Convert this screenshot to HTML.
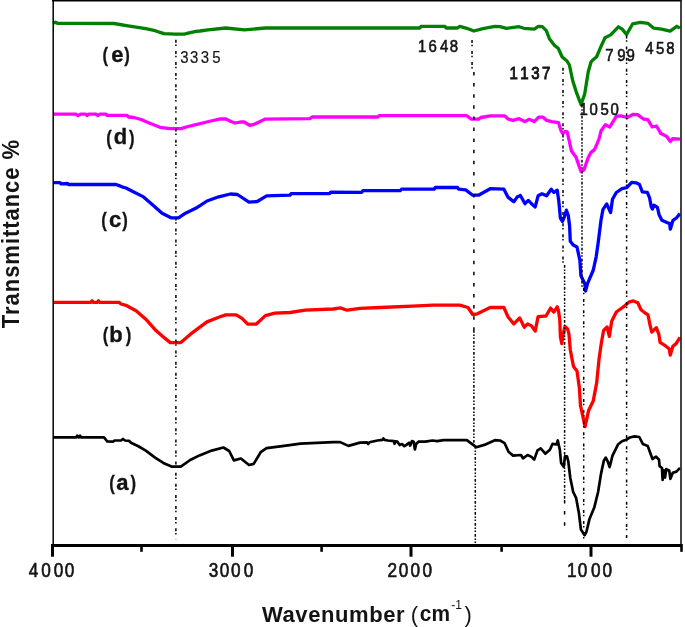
<!DOCTYPE html>
<html><head><meta charset="utf-8"><style>
html,body{margin:0;padding:0;background:#fff;}
svg{display:block;}
text{font-family:"Liberation Sans",Arial,sans-serif;fill:#141414;}
.lb{stroke:#141414;stroke-width:0.35;}
.an{stroke:#141414;stroke-width:0.6;}
.bx{stroke-width:0.95;}
.lt{stroke-width:0.2;}
.tk{stroke:#141414;stroke-width:0.65;}
.c{fill:none;stroke-width:3.3;stroke-linejoin:round;stroke-linecap:butt;}
.dd{stroke:#000;stroke-width:1.5;stroke-dasharray:3 1.8 1.5 4.8;}
.dsh{stroke:#000;stroke-width:1.5;stroke-dasharray:3.5 7.6;}
.ddd{stroke:#000;stroke-width:1.5;stroke-dasharray:2.7 1.9 1.5 1.5 1.5 1.9;}
</style></head><body>
<svg width="685" height="627" viewBox="0 0 685 627">
<rect width="685" height="627" fill="#fff"/>
<polyline class="c" stroke="#008000" points="53,23.3 55.5,22.2 57.5,23.3 80,23.3 114,23.5 128,25.9 145.8,28.7 155.1,30.7 164,33.6 175,34.2 184.4,34.2 187,33.3 196,31.4 200,31 208,29.9 225.7,28 244.4,29.9 265.4,28 350,28 420,28 421,26.4 445,26.4 446,28 457.5,28 459.8,26.4 466.8,28.3 473.8,31 483,28.7 494.9,26.4 500,26.7 506.4,28.3 519.1,26.7 523.9,28.3 534.3,29.1 538.3,26.4 542.3,26.7 546.3,30.7 549.4,38.7 554.2,45.1 558.2,48.3 562.2,57 567,61 569.4,65 572.6,80.2 576.6,92.9 581,104.5 584.7,94 588.2,72 591,62 592.5,60.2 596.5,57 600.2,48.3 605,37.8 610.7,34.9 618.4,26.8 622.2,29.1 626.6,34.5 632.7,23.8 640.4,22.4 648.1,23.4 653.8,28.2 661.5,29.1 670.1,31.1 676.8,26.3 680,28.2"/>
<polyline class="c" stroke="#ff00ff" points="53,114.2 76,114.2 78,115.6 80.5,114.2 85.7,114.2 87.1,115.6 88.6,114.2 96.2,114.2 98,115.6 99.7,114.2 106,114.2 107,115.3 127,115.3 128.5,117 134,117.5 141,119.5 150.4,123.5 160,127.3 170,128.6 181,128.6 188,126.5 195,124.9 208.8,121.5 220.4,118.8 226,119 231,121.5 235,123 241.5,121.8 244,122 249.7,125.3 254,124.3 260.2,121.4 264.8,119.2 309.8,118.7 312.1,117 378,117 379.2,115.7 466.8,115.7 471.5,119.2 478.5,119.2 480.8,117.5 490.2,115.9 504.2,115.9 505.1,116.1 508,119 513.1,120.4 519,118.7 524.8,121.6 529.2,119.3 534.3,121.6 538.7,117.2 543.1,117.2 546.7,120.4 551.8,121.6 558.4,122.6 561.3,131.4 562.8,133.6 565,131.4 567.2,131.8 571.5,151.1 575.9,156.9 581,171.5 583.9,170 587.9,158.4 590.8,152.6 594.5,149.6 598.9,139.4 601.1,130.7 605.4,124.8 609.8,127 616.4,116.1 620.8,115.8 627.3,117.5 633.2,114.3 637.6,114.6 643.4,119 647.8,119.7 652.2,127 656.5,126 660.9,133.6 666.8,136.5 670.4,141.6 672.6,138.7 680,139.1"/>
<polyline class="c" stroke="#0000ff" points="53,182.7 60,182.7 61,183.8 67.5,183.5 68.5,184.5 116,184.5 119,185.6 122,186.8 126,188 131.8,191 143.5,196.9 152.8,205 162.1,213.2 171.5,217.9 178.5,217.9 185.5,213.2 197.2,207.4 200,205.7 207,201 218.7,196.8 230.4,194 237.4,194.5 249,202.2 257.2,201.5 266.6,195.9 290,195.2 291.1,193.6 329.7,193.6 330.8,192.1 361.7,192.4 362.9,190.6 400.2,190.6 401.4,189.2 434.1,189.2 435.3,187.5 457.5,187.5 458.6,189.2 465.7,189.9 472.7,195.2 478.5,195.2 490.2,188.7 503.9,189.2 507.9,197.1 510.5,199.1 513.8,201.7 517.1,197.1 520.4,195.5 525,203.7 528.3,200.4 531.5,203.7 535.2,206.9 538.1,195.8 542,193.8 546.6,195.8 551.2,189.2 553.9,192.5 557.2,190.2 558.8,201.1 560.4,218.1 562.4,221.4 564.4,216.8 566.4,210.2 568.3,215.5 569.6,226 570.3,241.3 573.2,245.1 577,247 579.9,260.5 580.9,275.8 584.7,283.4 585.6,291.1 587.6,283.4 593.3,270 596.2,256.6 598.1,243.2 601,220.2 602.9,209.7 606.7,203.9 610.6,212.6 612.5,199.2 616.3,192.5 622,188.6 626.8,187.7 631.7,182.3 636.2,182.8 639.5,184.5 642.3,191.8 647.3,192.3 649.6,197.9 651.3,206.9 652.4,209.1 654,205.2 657.4,207.4 659.1,214.7 661.9,220.3 666.9,222.5 669.7,223.6 670.3,229.2 673,220.3 676.4,218 680,213.6"/>
<polyline class="c" stroke="#ff0000" points="53,302.3 91,302.3 92.1,300.8 93.3,302.3 97.4,302.3 98.5,300.8 99.7,302.3 119,302.3 121,304 126,305.3 130,307.5 136.4,311 145.8,319.2 155.1,329.7 164.5,337.9 170.3,342.6 180.8,342.6 190.2,334.4 199.5,327.4 207,321.9 218.7,317.2 225.7,314.9 236.2,314.9 242,318.4 247.9,324.2 256.1,324.2 265.4,315.6 274.8,313.2 290,312.5 305.1,310.2 333.2,309 340.2,307.9 347.2,310.2 360,308.3 380.4,307.5 417.8,305.9 432.9,305.2 459.8,305.2 468,307.5 472.7,314.5 477.3,313.8 490.2,307.5 503.9,307.5 507.9,316.7 513.8,323.9 519.7,318 524.3,327.2 527.6,323.9 531.5,325.9 535.2,331.1 538.1,316.7 546,316 550.6,308.1 553.9,312.1 557.2,306.8 558.5,310.8 559.8,320 560.4,337 561.8,343.6 563.1,334.4 565,326.5 567.7,329.2 569,334.4 570.3,350 573.5,366.4 577,371 579.3,387.2 580.5,405.7 582.8,416.2 585.1,426.6 588.6,410.4 593.2,401.1 596.7,382.6 599,359.4 601.3,343.2 603.6,330.5 607.1,327 609.4,336.3 611.7,321.2 616.3,312 624.4,306.2 628.8,302.1 633.3,300.9 637.8,302.8 641,309.8 644.2,312.3 648,314.9 649.9,324.5 651.8,332.1 656.3,327.7 658.8,334.1 660.1,342.4 665.9,346.2 669.1,348.7 670.3,355.1 672.9,346.2 676.1,343.6 680,337.3"/>
<polyline class="c" stroke="#000000" style="stroke-width:2.7" points="53,437.3 76.4,437.3 77.2,435.6 78,437.3 79.3,437.3 80.1,435.6 81,437.3 104,437.3 107.3,441.5 113,441.7 114.5,440.5 121,440.5 123,439 125,440.5 129,440.8 131,442.8 138.8,446.5 145.8,450.7 155.1,457.7 164.5,463.6 171.5,466.6 180.8,466.6 190.2,460 199.5,455.4 211.7,450.6 223.4,447.5 229.2,451 233.9,460.4 240.9,458.5 249,465 253.7,463.9 260.7,452.2 266.6,448.2 284.1,445.9 300.5,443.6 333.2,442.1 340.2,442.1 348.4,445.9 360,442.6 367,442.3 368.2,444 369.5,442.3 371.7,441.7 377.5,440.5 382.6,439.8 383.4,438.5 384.4,439.8 388,440.5 393.9,441.1 394.5,443.8 395.3,441.3 397.4,441.7 399.7,445 402,444 404.4,446.2 406.7,444.6 409,442.8 410.2,445.6 412,441.1 413.7,441.7 414.9,449.5 416.1,444 418.4,441.7 425.4,441.7 432.4,440.5 437.1,441.1 443.5,440.2 466.8,440.2 471.5,443.7 476.2,447.2 484.3,444.9 494.9,440.2 500,440.5 504.6,443.1 508.5,451.7 513.1,455.6 521,455 523,458.3 527.6,455 531.5,456.9 534.2,459.6 537.5,450.4 540.7,448.4 545.3,453.7 549.9,449.7 552.6,443.8 556.5,444.5 557.8,440.5 559.8,449.7 561.1,462.9 563.7,466.8 565,456.3 567,456.3 568.3,461.5 570.3,478 573.2,492 576.1,497.8 578.9,513.1 580.9,529.4 584.7,535.2 586.6,531.3 589.5,518.9 594.3,507.4 598.1,492 601,473.9 603.9,460.4 605.8,457.6 607.7,461.4 609.6,467.1 612.5,455.6 618.2,444.2 622,441.3 626.8,439.4 629.8,437.5 634.6,436.4 639.3,437 642.9,444.1 647.7,445.9 650.1,452.5 652.5,459 656.1,456.7 659,459.6 659.6,466.2 662,468 662.6,480 663.8,470.4 665,477.6 666.2,469.2 669.2,470.4 670.4,478.8 672.8,472.8 676.4,471.6 680,468"/>
<line x1="175.9" y1="39.8" x2="175.9" y2="539.5" class="dd"/>
<line x1="472.05" y1="39.9" x2="472.05" y2="69" class="dd"/>
<line x1="473.9" y1="72" x2="473.9" y2="330" class="dsh"/>
<line x1="473.9" y1="330" x2="473.9" y2="446" class="ddd"/>
<line x1="475.3" y1="446" x2="475.3" y2="543" class="ddd"/>
<line x1="563.0" y1="67.8" x2="563.0" y2="265" class="dd"/>
<line x1="564.6" y1="265" x2="564.6" y2="500" class="ddd"/>
<line x1="564.6" y1="500" x2="564.6" y2="530" class="dsh"/>
<line x1="582.0" y1="104.7" x2="582.0" y2="288" class="ddd"/>
<line x1="583.7" y1="288" x2="583.7" y2="539.5" class="dd"/>
<line x1="626.6" y1="35.5" x2="626.6" y2="539.5" class="dd"/>
<line x1="52" y1="0.8" x2="681.8" y2="0.8" stroke="#000" stroke-width="1.6"/>
<line x1="681" y1="0" x2="681" y2="545" stroke="#222" stroke-width="1.7"/>
<line x1="53.2" y1="0" x2="53.2" y2="546" stroke="#000" stroke-width="1.5"/>
<line x1="51" y1="545.4" x2="681" y2="545.4" stroke="#000" stroke-width="3"/>
<line x1="52.5" y1="544" x2="52.5" y2="556.7" stroke="#000" stroke-width="3"/><line x1="232.5" y1="544" x2="232.5" y2="556.7" stroke="#000" stroke-width="3"/><line x1="411.0" y1="544" x2="411.0" y2="556.7" stroke="#000" stroke-width="3"/><line x1="591.0" y1="544" x2="591.0" y2="556.7" stroke="#000" stroke-width="3"/><line x1="141.5" y1="544" x2="141.5" y2="551.8" stroke="#000" stroke-width="2.6"/><line x1="321.6" y1="544" x2="321.6" y2="551.8" stroke="#000" stroke-width="2.6"/><line x1="501.6" y1="544" x2="501.6" y2="551.8" stroke="#000" stroke-width="2.6"/><line x1="681.5" y1="544" x2="681.5" y2="551.8" stroke="#000" stroke-width="2.6"/>
<text class="tk" x="33.51 47.93 62.52 75.43" y="577.2" font-size="20" transform="scale(0.86,1)">4000</text>
<text class="tk" x="242.87 255.66 268.51 283.51" y="577.2" font-size="20" transform="scale(0.86,1)">3000</text>
<text class="tk" x="450.72 463.80 477.35 491.42" y="577.2" font-size="20" transform="scale(0.86,1)">2000</text>
<text class="tk" x="659.34 671.94 687.11 700.72" y="577.2" font-size="20" transform="scale(0.86,1)">1000</text>
<text class="an lt" x="204.81 215.83 228.11 241.08" y="63.1" font-size="17" transform="scale(0.88,1)">3335</text>
<text class="an" x="475.10 486.92 500.10 511.01" y="52.1" font-size="17" transform="scale(0.88,1)">1648</text>
<text class="an bx" x="578.85 591.12 603.62 616.00" y="79.1" font-size="17" transform="scale(0.88,1)">1137</text>
<text class="an" x="658.56 669.87 682.51 693.74" y="115.0" font-size="17" transform="scale(0.88,1)">1050</text>
<text class="an" x="687.71 701.30 711.92" y="61.3" font-size="17" transform="scale(0.88,1)">799</text>
<text class="an" x="733.22 745.46 757.03" y="53.7" font-size="17" transform="scale(0.88,1)">458</text>
<text class="lb" x="128.22" y="62.1" font-size="20.8" transform="scale(0.8,1)" font-weight="bold">(</text>
<text class="lb" x="111.23" y="61.6" font-size="22" font-weight="bold">e</text>
<text class="lb" x="155.29" y="62.1" font-size="20.8" transform="scale(0.8,1)" font-weight="bold">)</text>
<text class="lb" x="132.72" y="144.6" font-size="20.8" transform="scale(0.8,1)" font-weight="bold">(</text>
<text class="lb" x="113.85" y="144.1" font-size="22" font-weight="bold">d</text>
<text class="lb" x="161.11" y="144.6" font-size="20.8" transform="scale(0.8,1)" font-weight="bold">)</text>
<text class="lb" x="126.65" y="227.1" font-size="20.8" transform="scale(0.8,1)" font-weight="bold">(</text>
<text class="lb" x="109.07" y="226.6" font-size="22" font-weight="bold">c</text>
<text class="lb" x="152.98" y="227.1" font-size="20.8" transform="scale(0.8,1)" font-weight="bold">)</text>
<text class="lb" x="128.34" y="342.2" font-size="20.8" transform="scale(0.8,1)" font-weight="bold">(</text>
<text class="lb" x="109.21" y="341.7" font-size="22" font-weight="bold">b</text>
<text class="lb" x="157.23" y="342.2" font-size="20.8" transform="scale(0.8,1)" font-weight="bold">)</text>
<text class="lb" x="136.47" y="490.3" font-size="20.8" transform="scale(0.8,1)" font-weight="bold">(</text>
<text class="lb" x="116.24" y="489.8" font-size="22" font-weight="bold">a</text>
<text class="lb" x="163.04" y="490.3" font-size="20.8" transform="scale(0.8,1)" font-weight="bold">)</text>
<text class="ax" x="261.98" y="621.5" font-size="22" font-weight="bold" textLength="142.55" lengthAdjust="spacing">Wavenumber</text>
<text class="ax" x="410.77" y="621.5" font-size="22">(</text>
<text class="ax" x="441.98" y="621.5" font-size="22" font-weight="bold" transform="scale(0.95,1)">cm</text>
<text class="ax" x="451.30" y="608.7" font-size="12">-</text>
<text class="ax" x="455.25" y="608.9" font-size="12">1</text>
<text class="ax" x="464.50" y="621.5" font-size="22">)</text>
<text class="ax" transform="translate(19.2,328.15) rotate(-90) scale(0.92,1)" font-size="24" font-weight="bold" textLength="204.71" lengthAdjust="spacing">Transmittance %</text>
</svg>
</body></html>
